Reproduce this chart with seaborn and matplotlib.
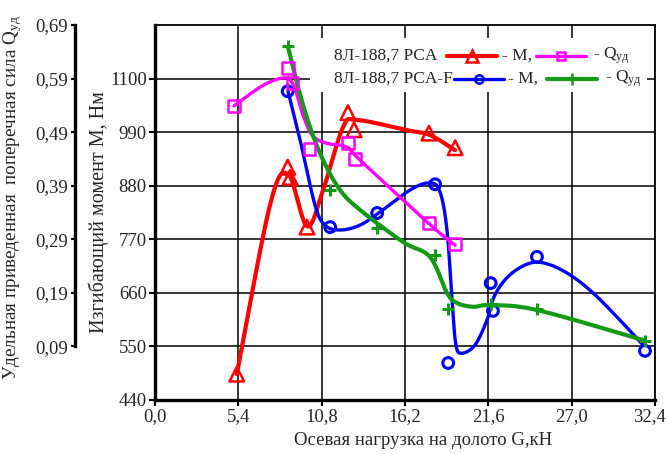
import numpy as np
import matplotlib
matplotlib.use("Agg")
import matplotlib.pyplot as plt
import matplotlib.transforms as mtransforms
import seaborn as sns

# --- measured points (markers) ---------------------------------------------
# 8Л-188,7 PCA, bending moment M (Нм)
pca_m_x = [5.3, 8.6, 8.75, 9.85, 12.5, 12.9, 17.75, 19.45]
pca_m_y = [493, 918, 897, 795, 1030, 995, 988, 958]
# 8Л-188,7 PCA, specific transverse force Qуд
pca_q_x = [5.1, 8.6, 8.9, 10.0, 12.5, 12.95, 17.75, 19.45]
pca_q_y = [0.539, 0.610, 0.582, 0.459, 0.470, 0.440, 0.320, 0.281]
# 8Л-188,7 PCA-F, bending moment M (Нм)
pcaf_m_x = [8.6, 11.35, 14.4, 18.15, 19.0, 21.75, 21.9, 24.75, 31.75]
pcaf_m_y = [1074, 795, 824, 883, 516, 680, 623, 734, 541]
# 8Л-188,7 PCA-F, specific transverse force Qуд
pcaf_q_x = [8.6, 11.35, 14.4, 18.15, 19.0, 21.75, 24.75, 31.75]
pcaf_q_y = [0.651, 0.382, 0.311, 0.261, 0.160, 0.169, 0.160, 0.100]

# --- smoothed trend curves (knots) -------------------------------------------
pca_m_cx = [5.3, 7.45, 8.62, 9.85, 10.89, 12.18, 13.09, 16.33, 17.82, 19.44]
pca_m_cy = [493, 840, 904, 797, 871, 1000, 1015, 994, 984, 953]
pca_q_cx = [5.12, 6.93, 8.29, 8.94, 9.59, 10.17, 11.02, 12.44, 13.28, 17.76, 19.44]
pca_q_cy = [0.539, 0.576, 0.591, 0.580, 0.522, 0.485, 0.470, 0.462, 0.438, 0.319, 0.279]
pcaf_m_cx = [8.62, 9.40, 10.37, 11.02, 11.99, 13.28, 14.58, 16.52, 17.82, 18.47,
             18.92, 19.25, 19.50, 19.89, 20.74, 21.51, 22.03, 23.0, 24.3, 25.47,
             26.89, 28.38, 30.13, 31.62]
pcaf_m_cy = [1074, 974, 840, 799, 789, 799, 826, 871, 886, 867,
             789, 645, 553, 536, 553, 604, 656, 697, 721, 719,
             697, 660, 604, 553]
pcaf_q_cx = [8.62, 9.27, 10.04, 10.89, 11.99, 13.28, 16.07, 17.82, 18.92, 19.57,
             20.61, 21.71, 24.75, 31.62]
pcaf_q_cy = [0.649, 0.574, 0.500, 0.438, 0.382, 0.345, 0.285, 0.257, 0.190, 0.171,
             0.164, 0.167, 0.158, 0.102]

x_ticks = [0.0, 5.4, 10.8, 16.2, 21.6, 27.0, 32.4]
m_ticks = [440, 550, 660, 770, 880, 990, 1100]
q_ticks = [0.09, 0.19, 0.29, 0.39, 0.49, 0.59, 0.69]

RED, MAGENTA, BLUE, GREEN = "#ff0000", "#ff00ff", "#0000ff", "#159a15"


def smooth(xs, ys, n=24):
    """Catmull-Rom spline through the knots (uniform parameterisation)."""
    p = np.column_stack([xs, ys]).astype(float)
    p = np.vstack([p[0], p, p[-1]])
    out = []
    t = np.linspace(0, 1, n, endpoint=False)[:, None]
    for i in range(1, len(p) - 2):
        p0, p1, p2, p3 = p[i - 1], p[i], p[i + 1], p[i + 2]
        seg = 0.5 * ((2 * p1) + (-p0 + p2) * t + (2 * p0 - 5 * p1 + 4 * p2 - p3) * t ** 2
                     + (-p0 + 3 * p1 - 3 * p2 + p3) * t ** 3)
        out.append(seg)
    out.append(p[-2][None, :])
    s = np.vstack(out)
    return s[:, 0], s[:, 1]


sns.set_style("ticks")
plt.rcParams["font.family"] = ["Liberation Serif", "DejaVu Serif"]
plt.rcParams["mathtext.fontset"] = "custom"
plt.rcParams["mathtext.rm"] = "Liberation Serif"
plt.rcParams["mathtext.it"] = "Liberation Serif:italic"
FS = 13.5

fig = plt.figure(figsize=(6.66, 4.54), dpi=100)
ax = fig.add_axes([155 / 666, 54 / 454, 500 / 666, 375 / 454])
ax2 = ax.twinx()

# main axis: moment
ax.set_xlim(0, 32.4)
ax.set_ylim(440, 1210)
ax.set_xticks(x_ticks)
ax.set_xticklabels([f"{v:.1f}".replace(".", ",") for v in x_ticks], fontsize=FS)
ax.set_yticks(m_ticks)
ax.set_yticklabels([str(v) for v in m_ticks], fontsize=FS)
ax.grid(True, color="black", linewidth=1.1)
ax.set_axisbelow(True)
ax.tick_params(axis="both", direction="out", length=4, width=1.5, color="black", pad=2)
for side in ["left", "bottom"]:
    ax.spines[side].set_linewidth(2.4)
for side in ["top", "right"]:
    ax.spines[side].set_linewidth(1.3)
for sp in ax.spines.values():
    sp.set_color("black")
# keep the last x label inside the figure
last = ax.get_xticklabels()[-1]
last.set_transform(last.get_transform() + mtransforms.ScaledTranslation(-6 / 100, 0, fig.dpi_scale_trans))

ax.set_xlabel("Осевая нагрузка на долото G,кН", fontsize=FS)
ax.xaxis.set_label_coords(0.536, -0.085)
ax.set_ylabel("Изгибающий момент M, Нм", fontsize=14.5)
ax.yaxis.set_label_coords(-0.092, 0.50)

# secondary axis: specific force, placed on the far left
ax2.set_ylim(-0.01, 0.69)
ax2.yaxis.set_ticks_position("left")
ax2.yaxis.set_label_position("left")
ax2.spines["left"].set_position(("axes", -0.16))
ax2.spines["left"].set_bounds(0.09, 0.69)
ax2.spines["left"].set_linewidth(2.4)
ax2.spines["left"].set_color("black")
for side in ["right", "top", "bottom"]:
    ax2.spines[side].set_visible(False)
ax2.set_yticks(q_ticks)
ax2.set_yticklabels([f"{v:.2f}".replace(".", ",") for v in q_ticks], fontsize=FS)
ax2.tick_params(axis="y", direction="out", length=3, width=1.5, color="black", pad=2)
ax2.set_ylabel("Удельная приведенная  поперечная сила Q$_{\\rm уд}$", fontsize=13.8)
ax2.yaxis.set_label_coords(-0.262, 0.54)

# trend curves
cx, cy = smooth(pca_m_cx, pca_m_cy)
ax.plot(cx, cy, color=RED, lw=3.0, zorder=3, solid_capstyle="round")
cx, cy = smooth(pcaf_m_cx, pcaf_m_cy)
ax.plot(cx, cy, color=BLUE, lw=2.4, zorder=3, solid_capstyle="round")
cx, cy = smooth(pca_q_cx, pca_q_cy)
ax2.plot(cx, cy, color=MAGENTA, lw=2.4, zorder=3, solid_capstyle="round")
cx, cy = smooth(pcaf_q_cx, pcaf_q_cy)
ax2.plot(cx, cy, color=GREEN, lw=3.0, zorder=3, solid_capstyle="round")

# measured points
sns.scatterplot(x=pca_m_x, y=pca_m_y, ax=ax, marker="^", s=110, facecolor="none",
                edgecolor=RED, linewidth=1.8, zorder=5)
sns.scatterplot(x=pcaf_m_x, y=pcaf_m_y, ax=ax, marker="o", s=60, facecolor="none",
                edgecolor=BLUE, linewidth=2.2, zorder=5)
sns.scatterplot(x=pca_q_x, y=pca_q_y, ax=ax2, marker="s", s=70, facecolor="none",
                edgecolor=MAGENTA, linewidth=1.8, zorder=5)
sns.scatterplot(x=pcaf_q_x, y=pcaf_q_y, ax=ax2, marker="+", s=80,
                edgecolor=GREEN, color=GREEN, linewidth=2.2, zorder=5)
ax2.set_ylim(-0.01, 0.69)

# legend block (axes coordinates)
ax2.add_patch(plt.Rectangle((0.31, 0.82), 0.674, 0.145, transform=ax2.transAxes,
                            facecolor="white", edgecolor="none", zorder=6))
LFS = 12.5


def key(x0, x1, y, color, marker, ms, lw):
    ax2.plot([x0, x1], [y, y], transform=ax2.transAxes, color=color, lw=lw, zorder=7,
             clip_on=False)
    ax2.plot([(x0 + x1) / 2], [y], transform=ax2.transAxes, color=color, marker=marker,
             ms=ms, mfc="none" if marker != "+" else color, mec=color, mew=1.8, zorder=8,
             clip_on=False)


y1, y2 = 0.918, 0.857
ax2.text(0.565, y1, "8Л-188,7 PCA", transform=ax2.transAxes, ha="right", va="center",
         fontsize=LFS, zorder=8)
key(0.584, 0.684, y1, RED, "^", 8, 3.0)
ax2.text(0.694, y1, "- M,", transform=ax2.transAxes, ha="left", va="center",
         fontsize=LFS, zorder=8)
key(0.762, 0.862, y1, MAGENTA, "s", 6, 2.4)
ax2.text(0.876, y1, "- Q$_{\\rm уд}$", transform=ax2.transAxes, ha="left", va="center",
         fontsize=LFS, zorder=8)

ax2.text(0.596, y2, "8Л-188,7 PCA-F", transform=ax2.transAxes, ha="right", va="center",
         fontsize=LFS, zorder=8)
key(0.598, 0.698, y2, BLUE, "o", 6, 2.4)
ax2.text(0.706, y2, "- M,", transform=ax2.transAxes, ha="left", va="center",
         fontsize=LFS, zorder=8)
key(0.784, 0.884, y2, GREEN, "+", 8, 3.0)
ax2.text(0.900, y2, "- Q$_{\\rm уд}$", transform=ax2.transAxes, ha="left", va="center",
         fontsize=LFS, zorder=8)

fig.savefig("out.png", dpi=100)
